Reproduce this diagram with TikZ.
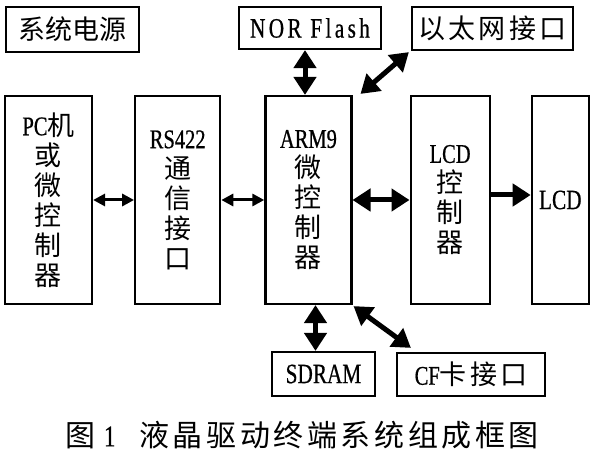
\documentclass[tikz,border=0pt]{standalone}
\usepackage{fontspec}
\setmainfont{Liberation Serif}[FakeStretch=0.76,FakeBold=0.6]
\newfontfamily\cjk{Noto Sans CJK SC}
\newfontfamily\cjksp{Noto Sans CJK SC}[LetterSpace=12]
\newfontfamily\latsp{Liberation Serif}[FakeStretch=0.76,FakeBold=0.6,LetterSpace=12]
\usetikzlibrary{positioning,arrows.meta}

\tikzset{
  bigtip/.tip={Triangle[length=18pt,width=22pt]},
  smalltip/.tip={Triangle[length=12pt,width=12pt]},
}

\begin{document}
\begin{tikzpicture}[x=1pt, y=-1pt,
  blk/.style={draw, line width=2.2pt, inner sep=0pt, align=center, font=\fontsize{27}{30}\selectfont},
  lat/.style={font=\fontsize{28}{30}\selectfont},
  bus/.style={line width=5pt, bigtip-bigtip},
  lnk/.style={line width=3pt, smalltip-smalltip}]
\useasboundingbox (0,0) rectangle (597,457);

\node[blk, minimum width=133pt, minimum height=45pt] (pwr) at (72.5,29.5) {\cjk 系统电源};
\node[blk, lat, minimum width=142pt, minimum height=42pt] (nor) at (310,28) {\latsp NOR Flash};
\node[blk, minimum width=161pt, minimum height=43pt] (eth) at (492.5,28.5) {\cjksp 以太网接口};

\node[blk, minimum width=87pt, minimum height=208pt] (pc) at (48.5,200)
  {PC{\cjk 机}\\{\cjk 或}\\{\cjk 微}\\{\cjk 控}\\{\cjk 制}\\{\cjk 器}};
\node[blk, minimum width=85pt, minimum height=208pt, right=41pt of pc] (rs)
  {RS422\\{\cjk 通}\\{\cjk 信}\\{\cjk 接}\\{\cjk 口}};
\node[blk, minimum width=86pt, minimum height=208pt, right=43pt of rs] (arm)
  {ARM9\\{\cjk 微}\\{\cjk 控}\\{\cjk 制}\\{\cjk 器}};
\node[blk, minimum width=79pt, minimum height=208pt, right=57pt of arm] (lcdc)
  {LCD\\{\cjk 控}\\{\cjk 制}\\{\cjk 器}};
\node[blk, lat, minimum width=57pt, minimum height=208pt, right=40pt of lcdc] (lcd) {LCD};

\node[blk, lat, minimum width=103pt, minimum height=44pt] (sdram) at (323.5,374) {SDRAM};
\node[blk, minimum width=148pt, minimum height=43pt] (cf) at (471,374.5) {CF{\cjksp 卡接口}};

\node (cap) at (302,435) {\fontsize{30}{30}\selectfont{\cjk 图}\hspace{9pt}1\hspace{24pt}{\cjksp 液晶驱动终端系统组成框图}};

% links between the blocks
\draw[lnk] (pc) -- (rs);
\draw[lnk] (rs) -- (arm);
\draw[bus] (arm) -- (lcdc);
\draw[line width=5pt, -bigtip] ([yshift=5pt]lcdc.east) -- ([yshift=5pt]lcdc.east -| lcd.west);
\draw[bus] ([xshift=-5pt]nor.south) -- ([xshift=-5pt]nor.south |- arm.north);
\draw[bus] ([xshift=-8pt]sdram.north) -- ([xshift=-8pt]sdram.north |- arm.south);
\draw[bus] ([xshift=-2pt,yshift=-1pt]eth.south west) -- ([xshift=8pt,yshift=1pt]arm.north east);
\draw[bus] ([xshift=1pt,yshift=-1pt]arm.south east) -- ([xshift=15pt,yshift=4pt]cf.north west);
\end{tikzpicture}
\end{document}
